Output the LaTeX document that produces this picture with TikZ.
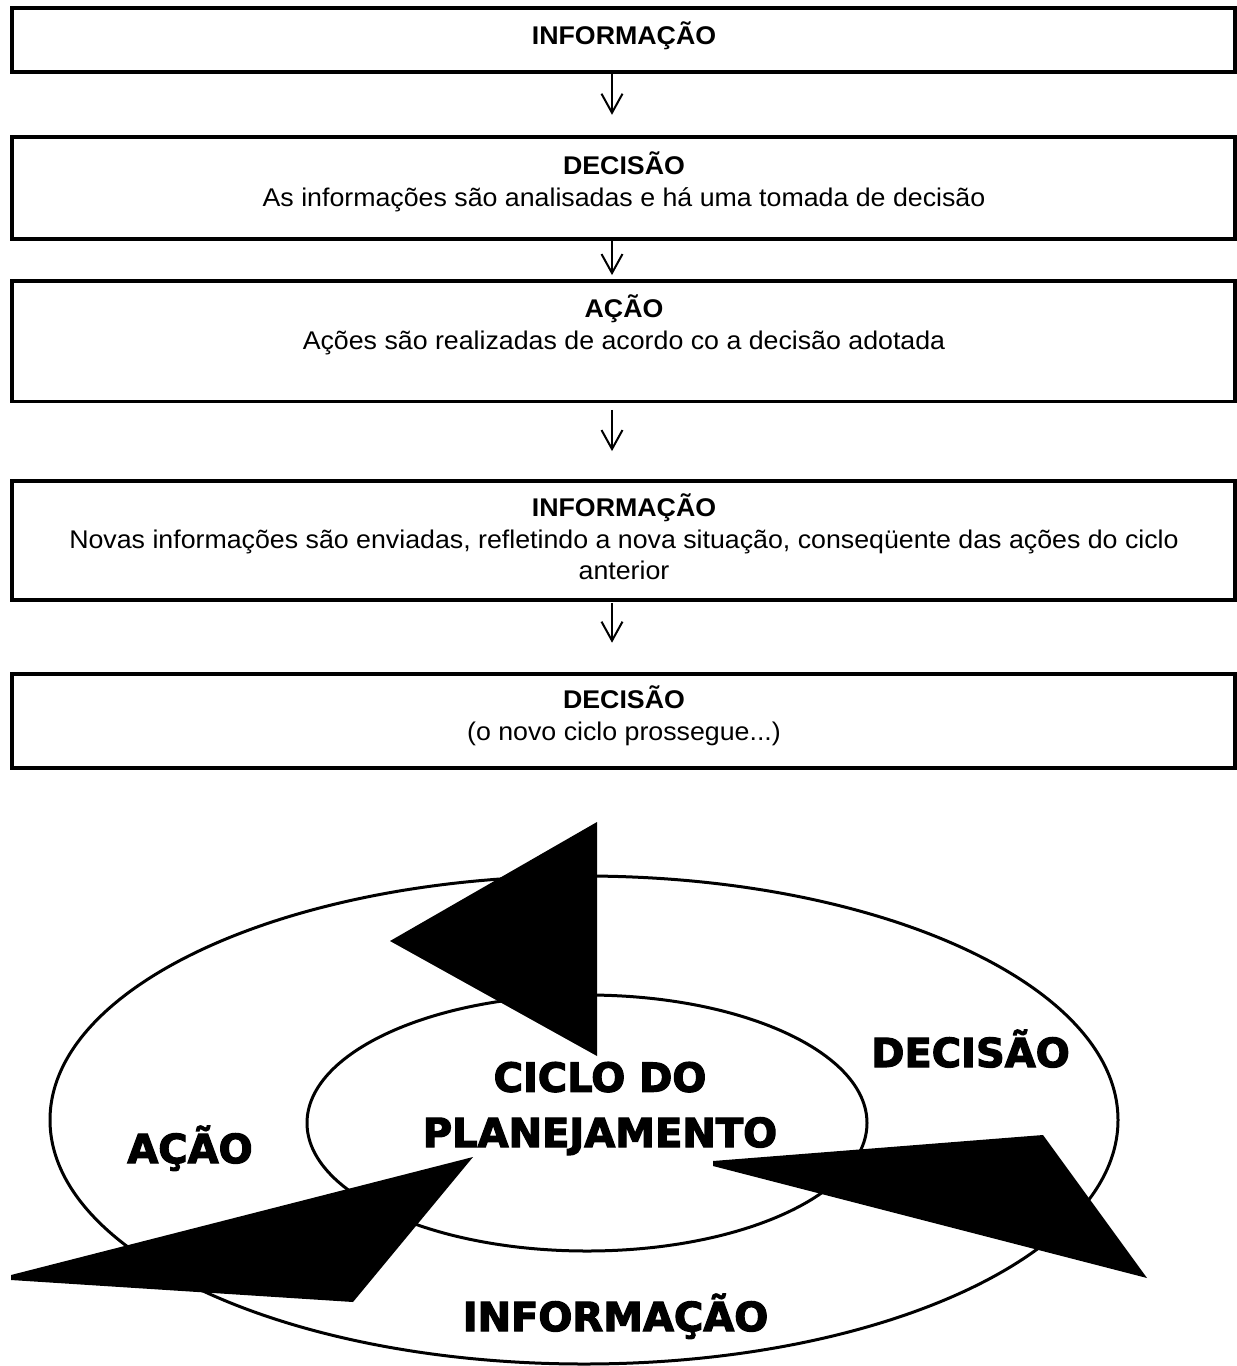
\documentclass[tikz,border=0pt]{standalone}
\usepackage{fontspec}
\setmainfont{Liberation Sans}[FakeStretch=1.045]
\newfontfamily\heavyfont{DejaVu Sans}[BoldFeatures={FakeBold=3}]
\usetikzlibrary{arrows.meta}
\begin{document}
\begin{tikzpicture}[x=1pt,y=-1pt,
  box/.style={draw, line width=3.8pt, inner sep=0pt, minimum width=1223pt},
  head/.style={font=\fontsize{25.6}{30}\selectfont\bfseries, anchor=base, inner sep=0pt},
  body/.style={font=\fontsize{25.6}{30}\selectfont, anchor=base, inner sep=0pt},
  flow/.style={line width=2pt, -{Straight Barb[length=19pt,width=21pt,line width=2pt]}},
  ring/.style={line width=3pt},
  big/.style={font=\heavyfont\bfseries\fontsize{40}{48}\selectfont, anchor=base, inner sep=0pt},
  wedge/.style={fill=black, draw=none}]
\useasboundingbox (0,0) rectangle (1237,1366);
\coordinate (ax) at (612,0);

% boxes
\node[box, minimum height=64pt]    (b1) at (623.5,39.7) {};
\node[box, minimum height=102.3pt] (b2) at (623.5,187.85) {};
\node[box, minimum height=120.5pt] (b3) at (623.5,341.25) {};
\node[box, minimum height=119pt]   (b4) at (623.5,540.5) {};
\node[box, minimum height=94.4pt]  (b5) at (623.5,720.8) {};

% texts
\node[head] (t1) at (624,44) {INFORMAÇÃO};
\node[head] (t2) at (624,174) {DECISÃO};
\node[body] (t2b) at (624,206) {As informações são analisadas e há uma tomada de decisão};
\node[head] (t3) at (624,317) {AÇÃO};
\node[body] (t3b) at (624,349) {Ações são realizadas de acordo co a decisão adotada};
\node[head] (t4) at (624,516) {INFORMAÇÃO};
\node[body] (t4b) at (624,548) {Novas informações são enviadas, refletindo a nova situação, conseqüente das ações do ciclo};
\node[body] (t4c) at (624,579) {anterior};
\node[head] (t5) at (624,708) {DECISÃO};
\node[body] (t5b) at (624,740) {(o novo ciclo prossegue...)};

% arrows
\draw[flow, shorten >=20pt] (b1.south -| ax) -- (b2.north -| ax);
\draw[flow, shorten >=4pt] (b2.south -| ax) -- (b3.north -| ax);
\draw[flow, shorten <=6.5pt, shorten >=28pt] (b3.south -| ax) -- (b4.north -| ax);
\draw[flow, shorten <=1.5pt, shorten >=29pt] (b4.south -| ax) -- (b5.north -| ax);

% cycle
\draw[ring] (584,1120) ellipse [x radius=534, y radius=244];
\draw[ring] (587,1123) ellipse [x radius=280, y radius=128];
\fill[wedge] (390,941) -- (597,822) -- (597,1056) -- cycle;
\fill[wedge] (11,1275) -- (473,1157) -- (353,1302) -- (11,1280) -- cycle;
\fill[wedge] (713,1161) -- (1043,1135) -- (1147,1278) -- (713,1166) -- cycle;

\node[big] (c1) at (600,1091.7) {CICLO DO};
\node[big] (c2) at (600,1147) {PLANEJAMENTO};
\node[big] (c3) at (970.5,1067) {DECISÃO};
\node[big] (c4) at (190,1163) {AÇÃO};
\node[big] (c5) at (615.5,1331) {INFORMAÇÃO};
\end{tikzpicture}
\end{document}
